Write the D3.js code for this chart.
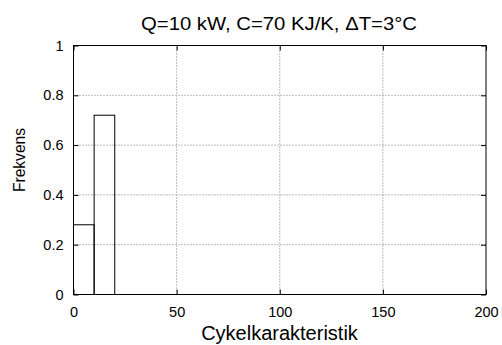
<!DOCTYPE html>
<html><head><meta charset="utf-8">
<script src="https://cdn.jsdelivr.net/npm/d3@7"></script>
<style>body{margin:0;background:#fff}text{font-family:"Liberation Sans",Arial,sans-serif;fill:#000}</style>
</head><body><svg id="c" width="502" height="345"></svg>
<script>
const binStarts = [0, 10];
const binEnds = [10, 20];
const freqs = [0.28, 0.72];
const xTicks = [0, 50, 100, 150, 200];
const yTicks = [0, 0.2, 0.4, 0.6, 0.8, 1];
const yTickLabels = ["0", "0.2", "0.4", "0.6", "0.8", "1"];
const title = "Q=10 kW, C=70 KJ/K, \u0394T=3\u00B0C";

const svg = d3.select("#c");
const L = 73.5, R = 486, T = 45.5, B = 294.5;
const x = d3.scaleLinear().domain([0, 200]).range([L, R]);
const y = d3.scaleLinear().domain([0, 1]).range([B, T]);

// grid
const g = svg.append("g");
g.selectAll(".gx").data(xTicks.slice(1, -1)).enter().append("line")
  .attr("x1", d => x(d)).attr("x2", d => x(d)).attr("y1", B).attr("y2", T)
  .attr("stroke", "#777").attr("stroke-dasharray", "1,2").attr("stroke-width", 1);
g.selectAll(".gy").data(yTicks.slice(1, -1)).enter().append("line")
  .attr("x1", L).attr("x2", R).attr("y1", d => y(d)).attr("y2", d => y(d))
  .attr("stroke", "#777").attr("stroke-dasharray", "1,2").attr("stroke-width", 1);

// bars
svg.selectAll(".bar").data(freqs).enter().append("rect")
  .attr("x", (d, i) => x(binStarts[i])).attr("width", (d, i) => x(binEnds[i]) - x(binStarts[i]))
  .attr("y", d => y(d)).attr("height", d => B - y(d))
  .attr("fill", "none").attr("stroke", "#000").attr("stroke-width", 1);

// frame
svg.append("rect").attr("x", L).attr("y", T).attr("width", R - L).attr("height", B - T)
  .attr("fill", "none").attr("stroke", "#000").attr("stroke-width", 1);

// axes with inward ticks
const xb = svg.append("g").attr("transform", `translate(0,${B})`)
  .call(d3.axisBottom(x).tickValues(xTicks).tickSize(-5).tickPadding(12.5).tickFormat(d3.format("d")));
const xt = svg.append("g").attr("transform", `translate(0,${T})`)
  .call(d3.axisTop(x).tickValues(xTicks).tickSize(-5).tickFormat(""));
const yl = svg.append("g").attr("transform", `translate(${L},0)`)
  .call(d3.axisLeft(y).tickValues(yTicks).tickSize(-5).tickPadding(10).tickFormat((d, i) => yTickLabels[i]));
const yr = svg.append("g").attr("transform", `translate(${R},0)`)
  .call(d3.axisRight(y).tickValues(yTicks).tickSize(-5).tickFormat(""));
[xb, xt, yl, yr].forEach(a => {
  a.select(".domain").remove();
  a.selectAll("line").attr("stroke", "#000");
  a.selectAll("text").style("font-family", "Liberation Sans, Arial, sans-serif").style("font-size", "14.5px").attr("fill", "#000");
});

svg.append("text").attr("x", 279).attr("y", 29.5).attr("text-anchor", "middle")
  .attr("textLength", 276).attr("lengthAdjust", "spacingAndGlyphs")
  .style("font-size", "18.5px").text(title);
svg.append("text").attr("x", 279.5).attr("y", 340).attr("text-anchor", "middle")
  .style("font-size", "20px").text("Cykelkarakteristik");
svg.append("text").attr("transform", "translate(25,160) rotate(-90)").attr("text-anchor", "middle")
  .attr("textLength", 64).attr("lengthAdjust", "spacingAndGlyphs")
  .style("font-size", "17px").text("Frekvens");
</script></body></html>
